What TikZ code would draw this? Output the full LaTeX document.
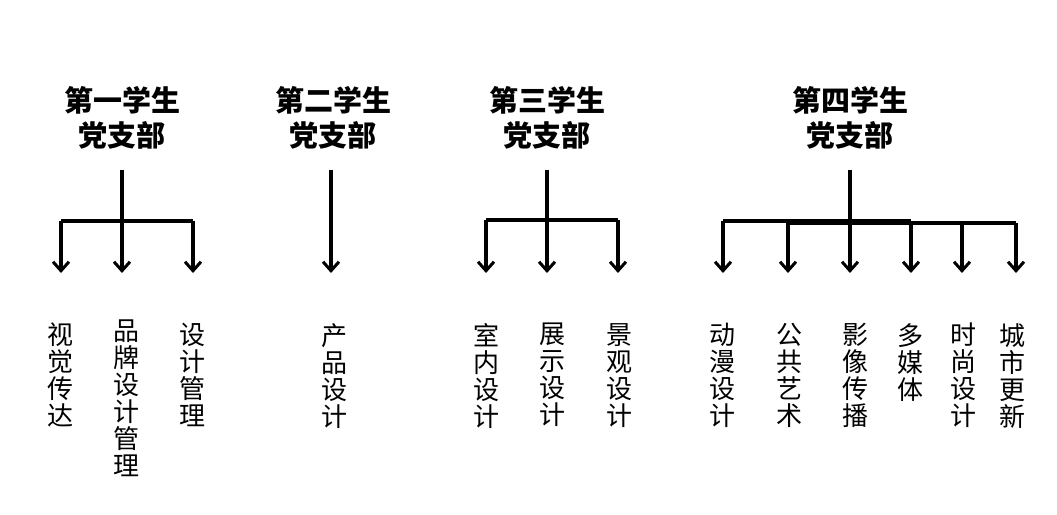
\documentclass[tikz,border=0pt]{standalone}
\usepackage{fontspec}
\newfontfamily\cjk{Noto Sans CJK SC}
\usetikzlibrary{arrows.meta}
\begin{document}
\begin{tikzpicture}[x=1pt,y=-1pt,
  title/.style={font=\cjk\bfseries\fontsize{29}{35}\selectfont,align=center,inner sep=0pt},
  leaf/.style={font=\cjk\fontsize{26}{27}\selectfont,align=center,anchor=north,inner sep=0pt},
  conn/.style={line width=3.3pt},
  arr/.style={line width=3.3pt,-{Straight Barb[length=9pt,width=16pt,line width=3pt]}}]
\useasboundingbox (0,0) rectangle (1057,514);
% titles
\node[title] (t1) at (122,118) {第一学生\\党支部};
\node[title] (t2) at (333,118) {第二学生\\党支部};
\node[title] (t3) at (547,118) {第三学生\\党支部};
\node[title] (t4) at (850,118) {第四学生\\党支部};
% stem tops and junctions
\coordinate (s1) at (122,170); \coordinate (j1) at (122,221);
\coordinate (s2) at (331,170);
\coordinate (s3) at (547,170); \coordinate (j3) at (547,220);
\coordinate (s4) at (850,170); \coordinate (j4) at (850,221);
% branch corners
\coordinate (c1a) at (61,221); \coordinate (c1c) at (193,221);
\coordinate (c3a) at (486,220); \coordinate (c3c) at (618,220);
\coordinate (c4a) at (723,221); \coordinate (c4d) at (911,221);
\coordinate (c4b) at (788,223); \coordinate (c4f) at (1016,223);
\coordinate (c4e) at (962,223);
% arrow ends
\coordinate (e1a) at (61,273); \coordinate (e1b) at (122,273); \coordinate (e1c) at (193,273);
\coordinate (e2) at (331,273);
\coordinate (e3a) at (486,273); \coordinate (e3b) at (547,273); \coordinate (e3c) at (618,273);
\coordinate (e4a) at (723,273); \coordinate (e4b) at (788,273); \coordinate (e4c) at (850,273);
\coordinate (e4d) at (911,273); \coordinate (e4e) at (962,273); \coordinate (e4f) at (1016,273);
% connectors group 1
\draw[conn] (s1) -- (j1);
\draw[conn] (c1a) -- (c1c);
\draw[arr] (c1a) -- (e1a);
\draw[arr] (j1) -- (e1b);
\draw[arr] (c1c) -- (e1c);
% group 2
\draw[arr] (s2) -- (e2);
% group 3
\draw[conn] (s3) -- (j3);
\draw[conn] (c3a) -- (c3c);
\draw[arr] (c3a) -- (e3a);
\draw[arr] (j3) -- (e3b);
\draw[arr] (c3c) -- (e3c);
% group 4
\draw[line width=4.2pt] (s4) -- (j4);
\draw[conn] (c4a) -- (c4d);
\draw[conn] (c4b) -- (c4f);
\draw[arr] (c4a) -- (e4a);
\draw[arr] (c4b) -- (e4b);
\draw[arr] (j4) -- (e4c);
\draw[arr] (c4d) -- (e4d);
\draw[arr] (c4e) -- (e4e);
\draw[arr] (c4f) -- (e4f);
% leaves
\node[leaf] (l1a) at (60,323) {视\\觉\\传\\达};
\node[leaf] (l1b) at (126,320) {品\\牌\\设\\计\\管\\理};
\node[leaf] (l1c) at (192,323) {设\\计\\管\\理};
\node[leaf] (l2) at (334,323) {产\\品\\设\\计};
\node[leaf] (l3a) at (486,323) {室\\内\\设\\计};
\node[leaf] (l3b) at (552,323) {展\\示\\设\\计};
\node[leaf] (l3c) at (619,323) {景\\观\\设\\计};
\node[leaf] (l4a) at (722,323) {动\\漫\\设\\计};
\node[leaf] (l4b) at (789,323) {公\\共\\艺\\术};
\node[leaf] (l4c) at (855,323) {影\\像\\传\\播};
\node[leaf] (l4d) at (910,323) {多\\媒\\体};
\node[leaf] (l4e) at (963,323) {时\\尚\\设\\计};
\node[leaf] (l4f) at (1012,323) {城\\市\\更\\新};
\end{tikzpicture}
\end{document}
